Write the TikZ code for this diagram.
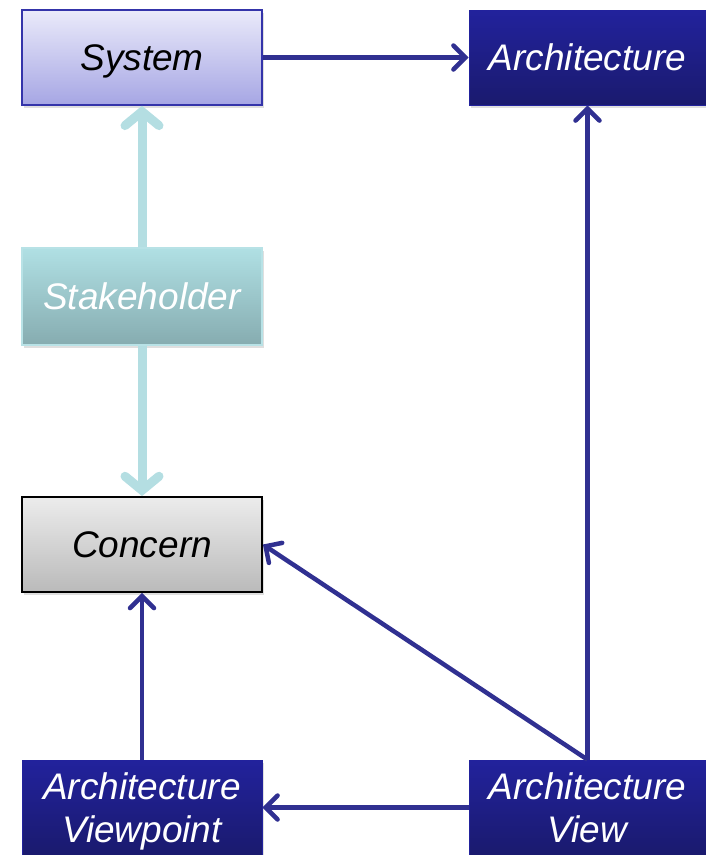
\documentclass[tikz,border=0pt]{standalone}
\usepackage{fontspec}
\setmainfont{Liberation Sans}
\usetikzlibrary{arrows.meta,shadows}
\definecolor{arrblue}{RGB}{48,48,145}
\definecolor{tealline}{RGB}{180,222,226}
\definecolor{darkbluetop}{RGB}{34,34,156}
\definecolor{darkbluebot}{RGB}{26,26,110}
\begin{document}
\begin{tikzpicture}[x=1pt,y=-1pt,
  box/.style={rectangle,inner sep=0pt,align=center,text depth=0pt,font=\fontsize{37}{43}\selectfont\itshape,
    drop shadow={opacity=0.25,shadow xshift=2pt,shadow yshift=-3pt}},
  lightbox/.style={box,draw={rgb,255:red,52;green,52;blue,170},line width=1.5pt,
    top color={rgb,255:red,234;green,234;blue,250},bottom color={rgb,255:red,166;green,166;blue,228},text=black},
  darkbox/.style={box,draw=darkbluetop,line width=0.8pt,top color=darkbluetop,bottom color=darkbluebot,text=white},
  tealbox/.style={box,draw={rgb,255:red,184;green,226;blue,230},line width=1.5pt,
    top color={rgb,255:red,176;green,224;blue,228},bottom color={rgb,255:red,134;green,172;blue,176},text=white},
  graybox/.style={box,draw=black,line width=1.8pt,
    top color={rgb,255:red,236;green,236;blue,236},bottom color={rgb,255:red,186;green,186;blue,186},text=black},
  arr/.style={draw=arrblue,line width=4.5pt,-{Straight Barb[length=12pt,width=24pt,line cap=round]}},
  tealarr/.style={draw=tealline,line width=9pt,-{Straight Barb[length=14pt,width=34pt,line cap=round]}}
]
\useasboundingbox (0,0) rectangle (706,855);
\node[lightbox,minimum width=240pt,minimum height=95pt] (sys) at (142,57.5) {System};
\node[darkbox,minimum width=237pt,minimum height=95pt] (arch) at (587.5,57.5) {Architecture};
\node[tealbox,minimum width=240pt,minimum height=97pt] (stk) at (142,296.5) {Stakeholder};
\node[graybox,minimum width=240pt,minimum height=95pt] (con) at (142,544.5) {Concern};
\node[darkbox,minimum width=240pt,minimum height=95pt] (vp) at (142,807.5) {Architecture\\Viewpoint};
\node[darkbox,minimum width=237pt,minimum height=95pt] (view) at (587.5,807.5) {Architecture\\View};
\draw[arr] (sys.east) -- (arch.west);
\draw[tealarr] (stk.north) -- (sys.south);
\draw[tealarr] (stk.south) -- (con.north);
\draw[arr] (view.north) -- (arch.south);
\draw[arr] (view.north) -- (con.east);
\draw[arr] (view.west) -- (vp.east);
\draw[arr] (vp.north) -- (con.south);
\end{tikzpicture}
\end{document}
